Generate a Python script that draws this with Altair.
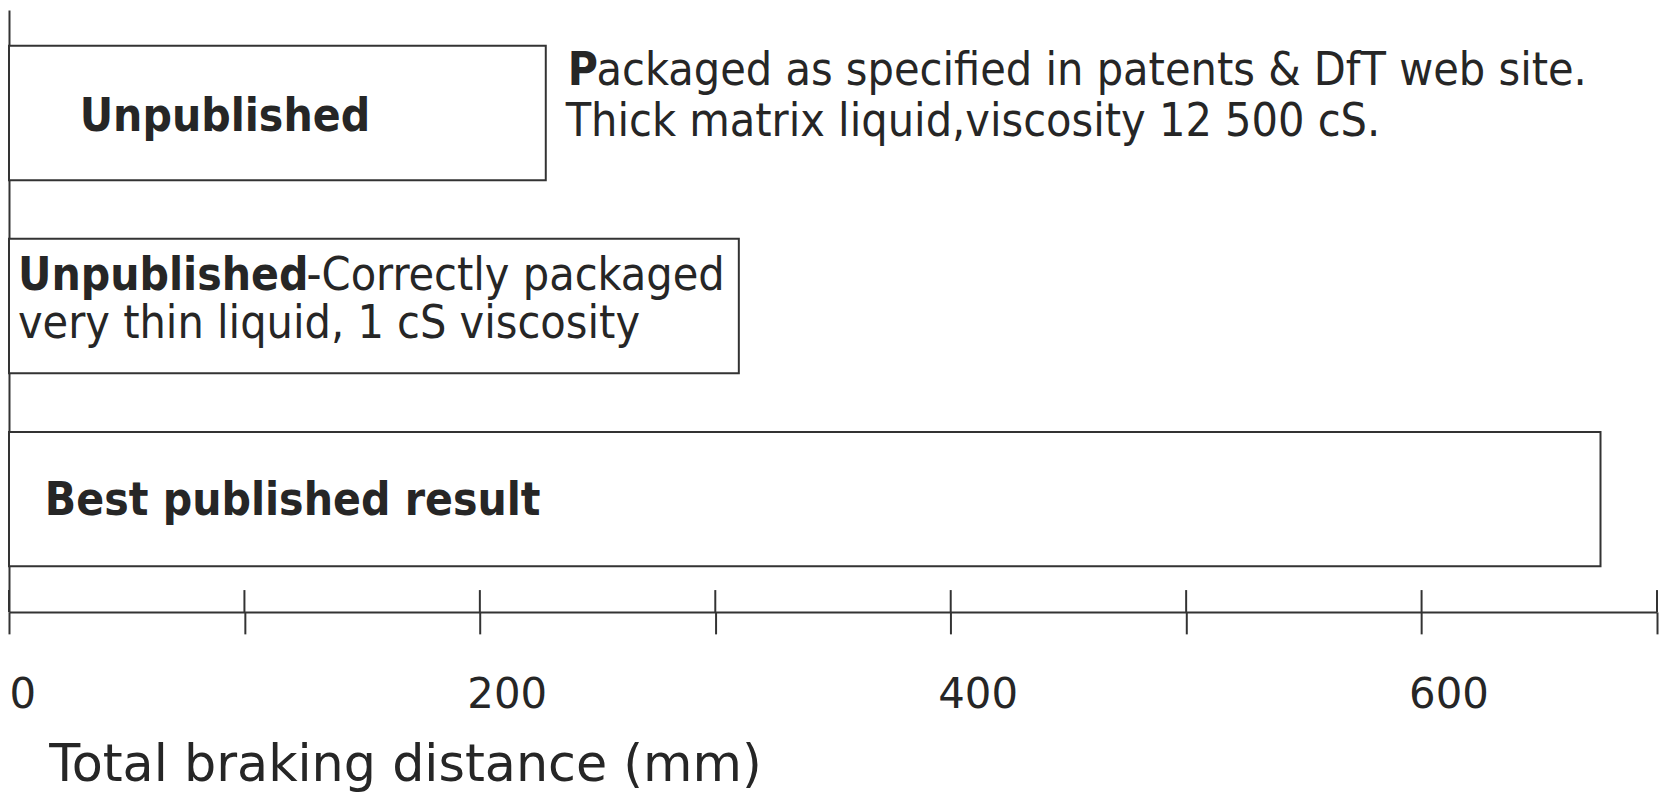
import json
import altair as alt
import pandas as pd

# ---- data ----
categories = ["Unpublished (thick, 12 500 cS)", "Unpublished (thin, 1 cS)", "Best published result"]
distances = [228, 310, 676]
tick_values = [0, 100, 200, 300, 400, 500, 600, 700]
labelled_ticks = [0, 200, 400, 600]
axis_title = "Total braking distance (mm)"

bar_df = pd.DataFrame({"case": categories, "distance": distances})
ticks_df = pd.DataFrame({"t": tick_values})

W, H = 1656, 605
FONT = "DejaVu Sans Condensed"
AXFONT = "DejaVu Sans"
INK = "#262626"
LINE = "#333333"
FS_REG = 46.5
FS_BOLD = 46

xscale = alt.Scale(domain=[0, 700], nice=False, zero=True)
yscale = alt.Scale(domain=categories, paddingInner=0.304, paddingOuter=0.211, align=0.44)

label_expr = "indexof(%s, datum.value) >= 0 ? datum.label : ''" % json.dumps(labelled_ticks)

x_axis = alt.Axis(
    values=tick_values, labelExpr=label_expr, grid=False,
    domainColor=LINE, domainWidth=2, tickColor=LINE, tickWidth=2, tickSize=22,
    labelFont=AXFONT, labelFontSize=42, labelColor=INK, labelBaseline="alphabetic",
    labelPadding=74, labelFlush=True, labelOffset=27, labelFlushOffset=27,
    labelOverlap=False,
    title=axis_title, titleFont=AXFONT, titleFontSize=51, titleFontWeight="normal",
    titleColor=INK, titleAnchor="start", titleAlign="left", titleX=40, titleY=169,
    titleBaseline="alphabetic",
)
y_axis = alt.Axis(title=None, labels=False, ticks=False, grid=False,
                  domain=True, domainColor=LINE, domainWidth=2)

bars = alt.Chart(bar_df).mark_bar(fill="white", stroke=LINE, strokeWidth=2).encode(
    x=alt.X("distance:Q", scale=xscale, axis=x_axis),
    y=alt.Y("case:N", scale=yscale, axis=y_axis),
)

upper_ticks = alt.Chart(ticks_df).mark_rule(color=LINE, strokeWidth=2).encode(
    x=alt.X("t:Q", scale=xscale),
    y=alt.value(H - 22),
    y2=alt.value(H),
)


def txt(i, text, dx, dy, bold=False, at_end=False):
    df = pd.DataFrame({"case": [categories[i]], "distance": [distances[i]], "label": [text]})
    x = alt.X("distance:Q", scale=xscale) if at_end else alt.datum(0)
    return alt.Chart(df).mark_text(
        align="left", baseline="alphabetic", dx=dx, dy=dy, font=FONT,
        fontSize=FS_BOLD if bold else FS_REG,
        fontWeight="bold" if bold else "normal", color=INK,
    ).encode(x=x, y=alt.Y("case:N", scale=yscale), text="label:N")


texts = [
    txt(0, "Unpublished", 71, 18.5, bold=True),
    txt(0, "P", 22, -28.5, bold=True, at_end=True),
    txt(0, "ackaged as specified in patents & DfT web site.", 51, -28.5, at_end=True),
    txt(0, "Thick matrix liquid,viscosity 12 500 cS.", 20, 23, at_end=True),
    txt(1, "Unpublished", 9, -16.5, bold=True),
    txt(1, "-Correctly packaged", 299, -16.5),
    txt(1, "very thin liquid, 1 cS viscosity", 9, 32.5),
    txt(2, "Best published result", 36, 15.5, bold=True),
]

chart = alt.layer(bars, upper_ticks, *texts).properties(
    width=W, height=H,
    autosize=alt.AutoSizeParams(type="none"),
    padding={"left": 1, "top": 0, "right": 2, "bottom": 180},
    background="white",
).configure_view(stroke=None)

chart.save("out.html", embed_options={"renderer": "svg", "actions": False})
